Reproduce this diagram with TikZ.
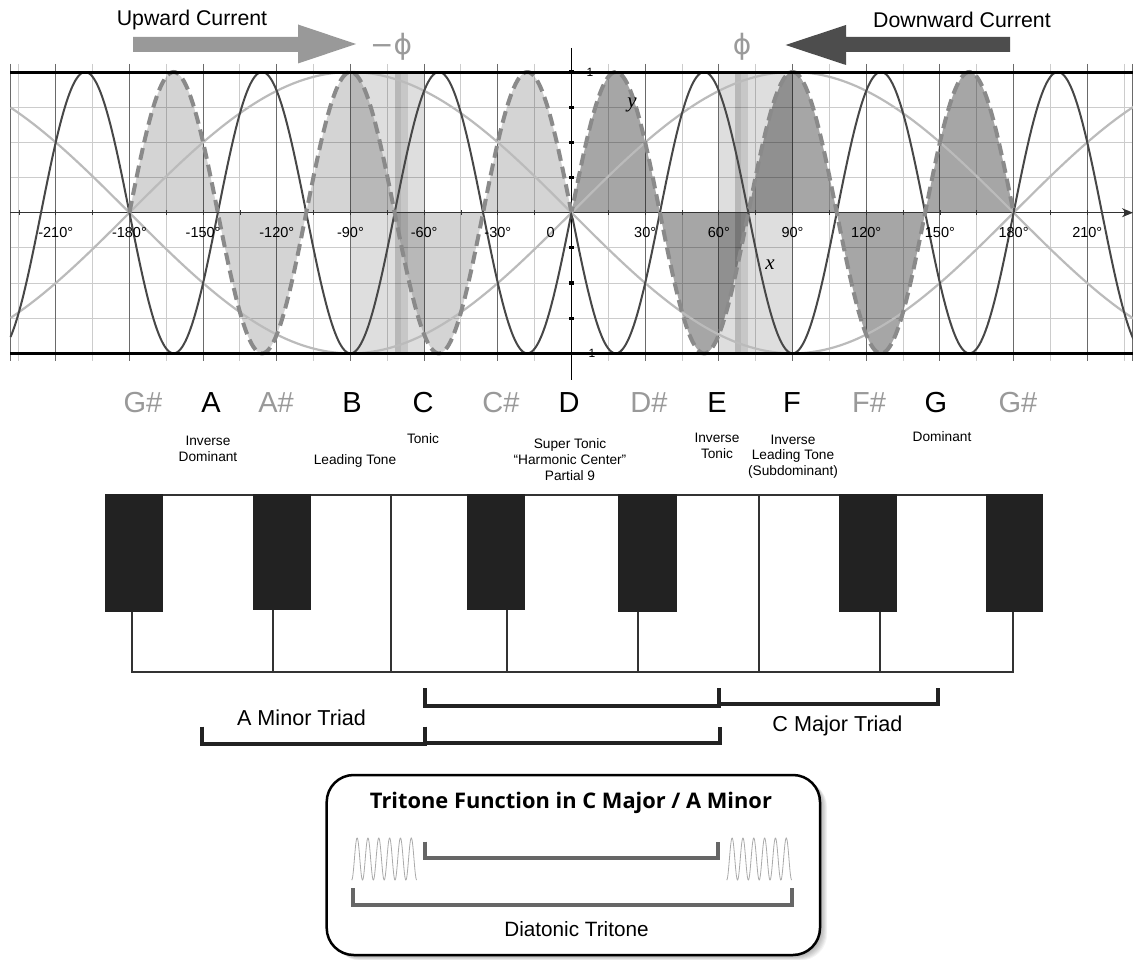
\documentclass[tikz,border=0pt]{standalone}
\usepackage{fontspec}
\setmainfont{Liberation Sans}
\newfontfamily\titlefont{Open Sans}
\newfontfamily\phifont{DejaVu Sans}
\newfontfamily\serifit{Liberation Serif}
\usetikzlibrary{arrows.meta}
\definecolor{darkc}{HTML}{474747}
\definecolor{lightc}{HTML}{BBBBBB}
\definecolor{dashc}{HTML}{8A8A8A}
\definecolor{gridl}{HTML}{CCCCCC}
\definecolor{gridd}{HTML}{6A6A6A}
\definecolor{keyblk}{HTML}{222222}
\definecolor{keyline}{HTML}{333333}
\definecolor{phigray}{HTML}{9A9A9A}
\definecolor{arrowl}{HTML}{999999}
\definecolor{arrowd}{HTML}{4D4D4D}
\definecolor{brk}{HTML}{222222}
\definecolor{brktwo}{HTML}{666666}
\definecolor{sharpc}{HTML}{999999}
\definecolor{wavec}{HTML}{AAAAAA}
\begin{document}
\begin{tikzpicture}[x=1pt,y=-1pt,
  deglab/.style={inner sep=0pt, font=\fontsize{14.5}{16}\selectfont},
  notelab/.style={inner sep=0pt, font=\fontsize{29}{32}\selectfont},
  annot/.style={inner sep=0pt, align=center, font=\fontsize{13.7}{15.7}\selectfont},
  bigtext/.style={inner sep=0pt, font=\fontsize{21.3}{24}\selectfont},
  triadtext/.style={inner sep=0pt, font=\fontsize{21.6}{24}\selectfont},
  bracketline/.style={brk, line width=4pt, line join=miter},
  bracketgray/.style={brktwo, line width=4pt, line join=miter},
  keyedge/.style={keyline, line width=2pt},
  blackkey/.style={fill=keyblk},
  lobefill/.style={fill=black},
]
\useasboundingbox (0,0) rectangle (1133,960);
\fill[white] (0,0) rectangle (1133,960);

% ---------- grid ----------
\foreach \d in {-225,-195,...,225}
  \draw[gridl, line width=1pt] ({571.5+2.456*\d},64) -- ({571.5+2.456*\d},361);
\foreach \v in {-0.75,-0.5,-0.25,0.25,0.5,0.75}
  \draw[gridl, line width=1pt] (10,{212.7-140.7*\v}) -- (1133,{212.7-140.7*\v});
\foreach \d in {-210,-180,...,210}
  \draw[gridd, line width=0.9pt] ({571.5+2.456*\d},64) -- ({571.5+2.456*\d},361);
\draw[gridd, line width=1pt] (10,64) -- (10,361);
\draw[gridd, line width=1pt] (1132.5,64) -- (1132.5,361);

% ---------- fills ----------
\fill[lobefill, fill opacity=0.17] (129.4,212.7) -- plot[domain=-180:0, samples=300] ({571.5+2.456*\x},{212.7-140.7*sin(5*abs(\x))}) -- cycle;
\fill[lobefill, fill opacity=0.35] (571.5,212.7) -- plot[domain=0:180, samples=300] ({571.5+2.456*\x},{212.7-140.7*sin(5*\x)}) -- cycle;
\fill[black, fill opacity=0.13] (350.5,72.3) rectangle (424.1,353.3);
\fill[black, fill opacity=0.13] (718.9,72.3) rectangle (792.5,353.3);
\fill[black, fill opacity=0.10] (394.7,72.3) rectangle (407.9,353.3);
\fill[black, fill opacity=0.07] (394.7,72.3) rectangle (400.5,353.3);
\fill[black, fill opacity=0.10] (735.1,72.3) rectangle (748.3,353.3);
\fill[black, fill opacity=0.07] (735.1,72.3) rectangle (740.5,353.3);

% ---------- axes ----------
\draw[keyline, line width=1pt, -{Stealth[length=11pt,width=9pt]}] (10,212.7) -- (1133,212.7);
\foreach \d in {-225,-210,...,225}
  \draw[keyline, line width=0.8pt] ({571.5+2.456*\d},210.2) -- ({571.5+2.456*\d},215.2);
\draw[black, line width=1pt] (571.5,48) -- (571.5,380);

% ---------- curves ----------
\draw[lightc, line width=2.2pt] plot[domain=-228.4:228.8, samples=200] ({571.5+2.456*\x},{212.7-140.7*sin(\x)});
\draw[lightc, line width=2.2pt] plot[domain=-228.4:228.8, samples=200] ({571.5+2.456*\x},{212.7+140.7*sin(\x)});
\draw[darkc, line width=2pt] plot[domain=-228.4:228.8, samples=700] ({571.5+2.456*\x},{212.7+140.7*sin(5*abs(\x))});
\draw[dashc, line width=4pt, dash pattern=on 12pt off 6pt] plot[domain=-180:180, samples=700] ({571.5+2.456*\x},{212.7-140.7*sin(5*abs(\x))});

% top and bottom lines
\draw[black, line width=2.5pt] (10,72.3) -- (1133,72.3);
\draw[black, line width=2.5pt] (10,353.3) -- (1133,353.3);

% y-axis ticks
\foreach \v in {1,0.75,0.5,0.25,-0.25,-0.5,-0.75,-1}
  \fill[black] (569.3,{212.7-140.7*\v-1.6}) rectangle (573.7,{212.7-140.7*\v+1.6});

% ---------- axis labels ----------
\foreach \d in {-210,-180,...,-30}
  \node[deglab] (deg\d) at ({571.5+2.456*\d},232.7) {\d°};
\foreach \d in {30,60,...,210}
  \node[deglab] (deg\d) at ({571.5+2.456*\d},232.7) {\d°};
\node[deglab] (deg0) at (550.7,232.7) {0};
\node[inner sep=0pt, font=\fontsize{12}{13}\selectfont] (yone) at (590,72) {1};
\node[inner sep=0pt, font=\fontsize{12}{13}\selectfont] (ymone) at (590,353) {-1};
\node[inner sep=0pt, font=\serifit\itshape\fontsize{21}{24}\selectfont] (ylab) at (632,105) {y};
\node[inner sep=0pt, font=\serifit\itshape\fontsize{21}{24}\selectfont] (xlab) at (770,265) {x};

% ---------- currents ----------
\fill[arrowl] (133,36.8) -- (298,36.8) -- (298,24.5) -- (356,44) -- (298,63.5) -- (298,51.8) -- (133,51.8) -- cycle;
\fill[arrowd] (1010,37) -- (846,37) -- (846,25) -- (785.5,45) -- (846,65) -- (846,52) -- (1010,52) -- cycle;
\node[bigtext] (up) at (192,19.5) {Upward Current};
\node[bigtext] (down) at (962,19.5) {Downward Current};
\node[inner sep=0pt, text=phigray, font=\phifont\fontsize{28}{30}\selectfont] (mphi) at (391,47) {−ϕ};
\node[inner sep=0pt, text=phigray, font=\phifont\fontsize{28}{30}\selectfont] (phi) at (742,47) {ϕ};

% ---------- note names ----------
\node[notelab, text=sharpc] (nGs1) at (143,403) {G\#};
\node[notelab] (nA) at (211,403) {A};
\node[notelab, text=sharpc] (nAs) at (276,403) {A\#};
\node[notelab] (nB) at (352,403) {B};
\node[notelab] (nC) at (423,403) {C};
\node[notelab, text=sharpc] (nCs) at (501,403) {C\#};
\node[notelab] (nD) at (569,403) {D};
\node[notelab, text=sharpc] (nDs) at (649,403) {D\#};
\node[notelab] (nE) at (717,403) {E};
\node[notelab] (nF) at (792,403) {F};
\node[notelab, text=sharpc] (nFs) at (869,403) {F\#};
\node[notelab] (nG) at (936,403) {G};
\node[notelab, text=sharpc] (nGs2) at (1018,403) {G\#};

% ---------- annotations ----------
\node[annot] (aID) at (208,449) {Inverse\\Dominant};
\node[annot] (aLT) at (355,461) {Leading Tone};
\node[annot] (aT) at (423,439) {Tonic};
\node[annot] (aST) at (570,459.5) {Super Tonic\\“Harmonic Center”\\Partial 9};
\node[annot] (aIT) at (717,446) {Inverse\\Tonic};
\node[annot] (aILT) at (793,456.5) {Inverse\\Leading Tone\\(Subdominant)};
\node[annot] (aDom) at (942,437) {Dominant};

% ---------- piano ----------
\draw[keyedge] (131,495) -- (1013,495);
\draw[keyedge] (131,672.3) -- (1013.7,672.3);
\draw[keyedge] (131.7,611) -- (131.7,672.3);
\draw[keyedge] (1012.7,611) -- (1012.7,672.3);
\draw[keyedge] (391,495) -- (391,672.3);
\draw[keyedge] (759.3,495) -- (759.3,672.3);
\draw[keyedge] (272.7,609) -- (272.7,672.3);
\draw[keyedge] (507,609) -- (507,672.3);
\draw[keyedge] (638,611) -- (638,672.3);
\draw[keyedge] (880,611) -- (880,672.3);
\fill[blackkey] (105,494) rectangle (163.3,611.7);
\fill[blackkey] (252.7,494) rectangle (310.7,610);
\fill[blackkey] (467.3,494) rectangle (525,610);
\fill[blackkey] (618.3,494) rectangle (676.7,612);
\fill[blackkey] (839.3,494) rectangle (897.3,612);
\fill[blackkey] (985.7,494) rectangle (1043.3,612);

% ---------- triad brackets ----------
\draw[bracketline] (425,688) -- (425,706) -- (719,706) -- (719,688);
\draw[bracketline] (719,688) -- (719,703.5) -- (937.5,703.5) -- (937.5,688);
\draw[bracketline] (201.7,726.7) -- (201.7,744.3) -- (425,744.3) -- (425,726.7);
\draw[bracketline] (425,726.7) -- (425,743) -- (719.5,743) -- (719.5,726.7);
\node[triadtext] (amin) at (301.5,717.5) {A Minor Triad};
\node[triadtext] (cmaj) at (837.5,726) {C Major Triad};

% ---------- tritone box ----------
\foreach \i in {1,...,8}
  \fill[black, opacity=0.045, rounded corners=27pt] ({326.7+\i*0.9},{775+\i*0.7}) rectangle ({820+\i*0.9},{955+\i*0.7});
\draw[black, line width=2.5pt, fill=white, rounded corners=27pt] (326.7,775) rectangle (820,955);
\node[inner sep=0pt, font=\titlefont\bfseries\fontsize{21.5}{24}\selectfont] (title) at (571,802.5) {\resizebox{402pt}{\height}{Tritone Function in C Major / A Minor}};
\draw[wavec, line width=0.8pt] plot[domain=0:2160, samples=240] ({351.7+\x*0.030093},{859+21*cos(\x)});
\draw[wavec, line width=0.8pt] plot[domain=0:2160, samples=240] ({726.7+\x*0.030093},{859+21*cos(\x)});
\draw[bracketgray] (425,841.7) -- (425,858) -- (718.3,858) -- (718.3,841.7);
\draw[bracketgray] (352.5,888.3) -- (352.5,905) -- (791.7,905) -- (791.7,888.3);
\node[inner sep=0pt, font=\fontsize{20.7}{24}\selectfont] (dtri) at (576.5,929) {Diatonic Tritone};
\end{tikzpicture}
\end{document}
